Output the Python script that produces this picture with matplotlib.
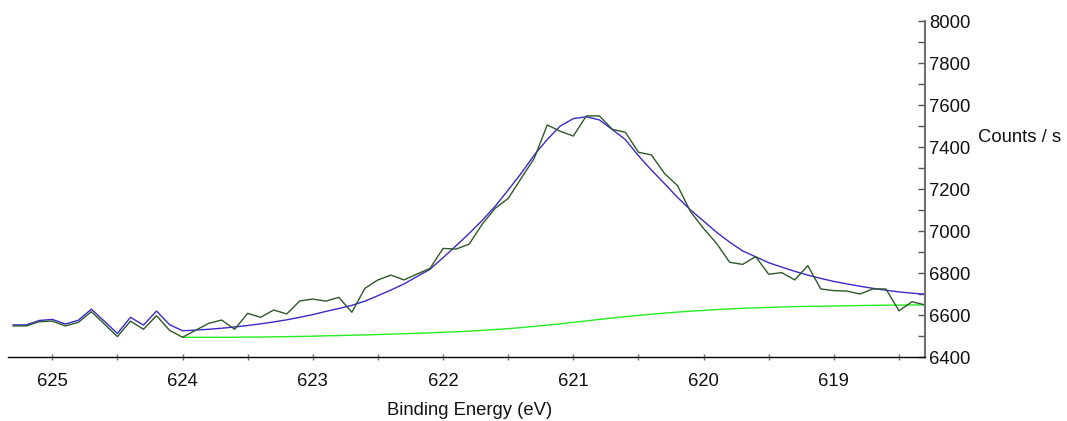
import matplotlib
matplotlib.use("Agg")
import matplotlib.pyplot as plt
from matplotlib.ticker import MultipleLocator

plt.rcParams['font.family'] = ['Liberation Sans', 'DejaVu Sans']

# Binding energy grid (eV), 0.1 eV steps
energy = [625.3, 625.2, 625.1, 625.0, 624.9, 624.8, 624.7, 624.6, 624.5, 624.4,
          624.3, 624.2, 624.1, 624.0, 623.9, 623.8, 623.7, 623.6, 623.5, 623.4,
          623.3, 623.2, 623.1, 623.0, 622.9, 622.8, 622.7, 622.6, 622.5, 622.4,
          622.3, 622.2, 622.1, 622.0, 621.9, 621.8, 621.7, 621.6, 621.5, 621.4,
          621.3, 621.2, 621.1, 621.0, 620.9, 620.8, 620.7, 620.6, 620.5, 620.4,
          620.3, 620.2, 620.1, 620.0, 619.9, 619.8, 619.7, 619.6, 619.5, 619.4,
          619.3, 619.2, 619.1, 619.0, 618.9, 618.8, 618.7, 618.6, 618.5, 618.4,
          618.3]

# Measured counts (dark green)
counts = [6548, 6548, 6568, 6571, 6548, 6565, 6616, 6557, 6497, 6571,
          6532, 6597, 6527, 6494, 6527, 6560, 6576, 6532, 6608, 6589,
          6624, 6605, 6667, 6676, 6666, 6684, 6613, 6727, 6767, 6790,
          6767, 6795, 6822, 6917, 6914, 6937, 7032, 7108, 7155, 7251,
          7346, 7505, 7475, 7452, 7548, 7548, 7484, 7470, 7375, 7362,
          7274, 7216, 7092, 7012, 6941, 6851, 6841, 6878, 6794, 6802,
          6767, 6835, 6724, 6716, 6714, 6700, 6724, 6724, 6620, 6663,
          6648]

# Fit envelope (blue)
envelope = [6553, 6553, 6574, 6579, 6557, 6575, 6628, 6570, 6512, 6589,
            6552, 6619, 6554, 6525, 6528, 6532, 6537, 6543, 6550, 6558,
            6567, 6577, 6589, 6602, 6617, 6631, 6646, 6666, 6692, 6719,
            6748, 6783, 6818, 6873, 6930, 6988, 7050, 7118, 7195, 7275,
            7362, 7436, 7500, 7535, 7544, 7529, 7483, 7435, 7358, 7290,
            7226, 7160, 7100, 7047, 6994, 6947, 6905, 6877, 6849, 6828,
            6808, 6790, 6774, 6760, 6748, 6737, 6727, 6718, 6710, 6704,
            6699]

# Background (bright green), from 624.0 eV onwards
bg_energy = energy[13:]
background = [6494, 6494, 6494, 6494, 6494, 6495, 6495, 6496, 6497, 6498,
              6499, 6501, 6502, 6504, 6505, 6507, 6509, 6511, 6513, 6515,
              6518, 6520, 6523, 6527, 6531, 6535, 6540, 6546, 6552, 6558,
              6565, 6572, 6579, 6586, 6592, 6598, 6604, 6609, 6614, 6618,
              6622, 6626, 6629, 6632, 6634, 6636, 6638, 6640, 6641, 6642,
              6643, 6644, 6645, 6646, 6647, 6647, 6648, 6648]

W, H = 1067, 421
fig = plt.figure(figsize=(W / 100, H / 100), dpi=100)
ax = fig.add_axes([8 / W, 64 / H, 917 / W, 336 / H])

ax.plot(bg_energy, background, color='#22ee22', lw=1.0)
ax.plot(energy, envelope, color='#3a2acb', lw=1.0)
ax.plot(energy, counts, color='#2d5a28', lw=1.0)

ax.set_xlim(625.34, 618.30)
ax.set_ylim(6400, 8000)

for s in ['top', 'left']:
    ax.spines[s].set_visible(False)
ax.spines['bottom'].set_color('#000000')
ax.spines['bottom'].set_linewidth(1.0)
ax.spines['right'].set_color('#707070')
ax.spines['right'].set_linewidth(1.5)

ax.yaxis.tick_right()
ax.xaxis.set_major_locator(MultipleLocator(1))
ax.xaxis.set_minor_locator(MultipleLocator(0.5))
ax.yaxis.set_major_locator(MultipleLocator(200))
ax.yaxis.set_minor_locator(MultipleLocator(100))

ax.tick_params(axis='x', which='both', direction='inout', length=5, width=1,
               color='#707070', labelsize=13.3, pad=9, labelcolor='#111111')
ax.tick_params(axis='y', which='both', direction='in', length=5, width=1,
               color='#505050', labelsize=13.3, pad=3, labelcolor='#111111')

fig.text(470 / W, 1 - 415 / H, 'Binding Energy (eV)', ha='center', va='baseline',
         fontsize=13.3, color='#111111')
fig.text(978 / W, 1 - 137 / H, 'Counts / s', ha='left', va='center',
         fontsize=13.3, color='#111111')

fig.savefig('out.png', dpi=100)
